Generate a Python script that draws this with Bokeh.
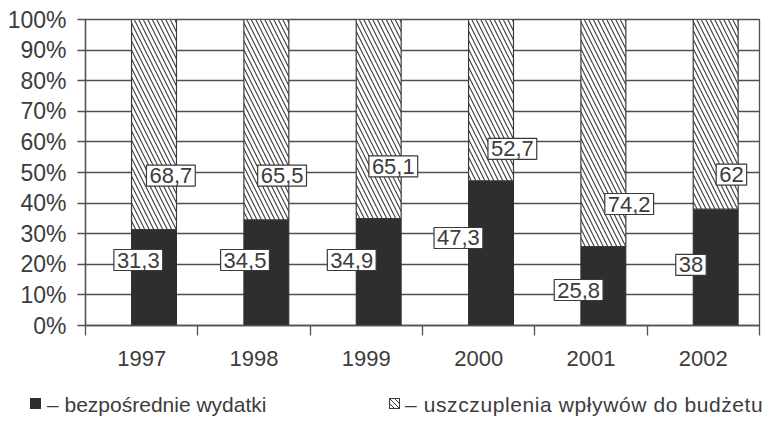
from bokeh.plotting import figure
from bokeh.layouts import column
from bokeh.models import ColumnDataSource, FixedTicker, Range1d, Div
from bokeh.embed import file_html
from bokeh.resources import INLINE

# ---- data ----
years = ["1997", "1998", "1999", "2000", "2001", "2002"]
direct = [31.3, 34.5, 34.9, 47.3, 25.8, 38.0]          # bezpośrednie wydatki
reduction = [68.7, 65.5, 65.1, 52.7, 74.2, 62.0]       # uszczuplenia wpływów
direct_txt = ["31,3", "34,5", "34,9", "47,3", "25,8", "38"]
reduction_txt = ["68,7", "65,5", "65,1", "52,7", "74,2", "62"]
y_ticks = [0, 10, 20, 30, 40, 50, 60, 70, 80, 90, 100]
legend_labels = ["– bezpośrednie wydatki", "– uszczuplenia wpływów do budżetu"]

# ---- label placement (as in the picture) ----
lab_dx_bottom = [-0.14, -0.19, -0.24, -0.29, -0.22, -0.22]
lab_y_bottom = [21.4, 21.4, 21.4, 28.6, 11.6, 19.8]
lab_dx_top = [0.15, 0.14, 0.13, 0.19, 0.23, 0.14]
lab_y_top = [49.0, 49.0, 52.0, 57.7, 39.7, 49.3]

FONT = "Liberation Sans"
TXT = "#3c3c3c"
LINE = "#505050"
DARK = "#2e2e2e"
HATCH = dict(fill_color="white", line_color="#3a3a3a", line_width=1.2,
             hatch_pattern="\\", hatch_color="#3a3a3a", hatch_scale=9, hatch_weight=1.1)

n = len(years)
mids = [i + 0.5 for i in range(n)]
bar_x = [m + 0.11 for m in mids]
top_sum = [d + r for d, r in zip(direct, reduction)]

src = ColumnDataSource(dict(
    x=bar_x, direct=direct, top=top_sum,
    xb=[b + dx for b, dx in zip(bar_x, lab_dx_bottom)], yb=lab_y_bottom, tb=direct_txt,
    xt=[b + dx for b, dx in zip(bar_x, lab_dx_top)], yt=lab_y_top, tt=reduction_txt,
))

W = 773
p = figure(width=W, height=375, output_backend="svg", toolbar_location=None,
           x_range=Range1d(0, n), y_range=Range1d(0, 100),
           min_border_left=85, min_border_right=14, min_border_top=19, min_border_bottom=50)
p.background_fill_color = "white"
p.border_fill_color = "white"
p.outline_line_color = LINE
p.outline_line_width = 1.3

p.vbar(x="x", width=0.40, bottom=0, top="direct", source=src,
       fill_color=DARK, line_color=DARK, line_width=1)
p.vbar(x="x", width=0.40, bottom="direct", top="top", source=src, **HATCH)

# x axis: labels at category centres, tick marks between categories
xa = p.xaxis[0]
xa.ticker = FixedTicker(ticks=mids, minor_ticks=list(range(n + 1)))
xa.major_label_overrides = {m: y for m, y in zip(mids, years)}
xa.major_tick_out = 0
xa.major_tick_in = 0
xa.minor_tick_out = 10
xa.minor_tick_in = 0
xa.minor_tick_line_color = LINE
xa.minor_tick_line_width = 1.3
xa.major_label_standoff = 15
xa.axis_line_color = LINE
xa.axis_line_width = 1.3
xa.major_label_text_font = FONT
xa.major_label_text_font_size = "22px"
xa.major_label_text_color = TXT

ya = p.yaxis[0]
ya.ticker = FixedTicker(ticks=y_ticks, minor_ticks=[])
ya.major_label_overrides = {t: f"{t}%" for t in y_ticks}
ya.major_tick_out = 8
ya.major_tick_in = 0
ya.major_tick_line_color = LINE
ya.major_tick_line_width = 1.3
ya.major_label_standoff = 11
ya.axis_line_color = LINE
ya.axis_line_width = 1.3
ya.major_label_text_font = FONT
ya.major_label_text_font_size = "23px"
ya.major_label_text_color = TXT

p.xgrid.grid_line_color = None
p.ygrid.ticker = FixedTicker(ticks=y_ticks)
p.ygrid.grid_line_color = LINE
p.ygrid.grid_line_width = 1.3

for xs, ys, ts in (("xb", "yb", "tb"), ("xt", "yt", "tt")):
    p.text(x=xs, y=ys, text=ts, source=src,
           text_align="center", text_baseline="middle",
           text_font={"value": FONT}, text_font_size="22px", text_color=TXT,
           background_fill_color="white", border_line_color="#3a3a3a",
           border_line_width=1.2, padding=3)

# legend strip below the chart
sq = "position:absolute;top:23px;width:11px;height:11px;box-sizing:border-box;"
lab = ("position:absolute;top:29px;transform:translateY(-50%);white-space:nowrap;"
       f"font-family:Liberation Sans,Arial,sans-serif;font-size:21px;color:{TXT};line-height:1;")
hatch_bg = ("repeating-linear-gradient(45deg,#ffffff 0px,#ffffff 2.5px,"
            "#3a3a3a 2.5px,#3a3a3a 3.5px)")
html = (
    f'<div style="position:relative;width:{W}px;height:50px;background:white;">'
    f'<div style="{sq}left:30px;background:{DARK};"></div>'
    f'<span style="{lab}left:47px;">{legend_labels[0]}</span>'
    f'<div style="{sq}left:389px;border:1px solid #3a3a3a;background:{hatch_bg};"></div>'
    f'<span style="{lab}left:405px;letter-spacing:0.6px;">{legend_labels[1]}</span>'
    f'</div>'
)
legend_div = Div(text=html, width=W, height=50, margin=0)

open("out.html", "w").write(file_html(column(p, legend_div, spacing=0), INLINE))
